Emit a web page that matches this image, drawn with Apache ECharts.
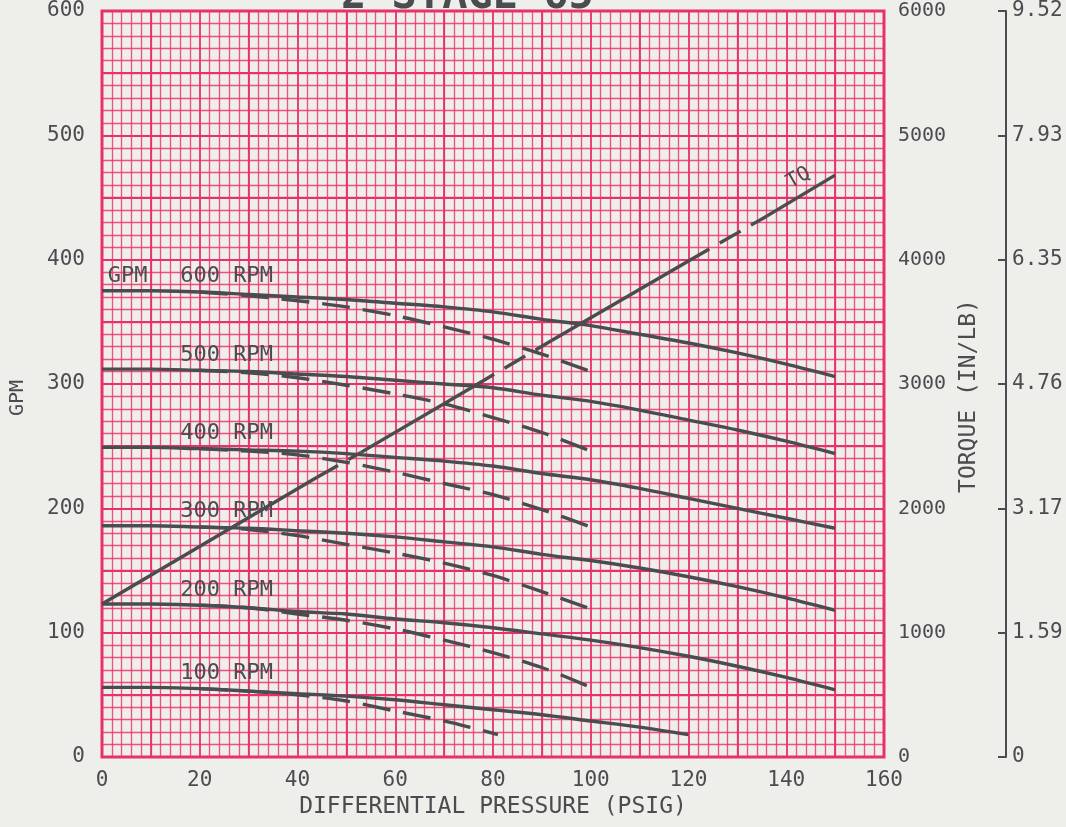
<!DOCTYPE html>
<html>
<head>
<meta charset="utf-8">
<script src="https://cdn.jsdelivr.net/npm/echarts@6/dist/echarts.min.js"></script>
<style>
html,body{margin:0;padding:0;background:#eeeeeb;}
#chart{width:1066px;height:827px;}
</style>
</head>
<body>
<div id="chart"></div>
<script>
// ---- data ----
var psiTicks = [0, 20, 40, 60, 80, 100, 120, 140, 160];
var rightTickLabels = ['0', '1.59', '3.17', '4.76', '6.35', '7.93', '9.52'];

var psiSolid = [0, 10, 20, 30, 40, 50, 60, 70, 80, 90, 100, 110, 120, 130, 140, 150];
var gpm600 = [375, 375, 374, 372, 370, 368, 365, 362, 358, 352, 347, 340, 333, 325, 316, 306];
var gpm500 = [312, 312, 311, 310, 308, 306, 303, 300, 297, 291, 286, 279, 271, 263, 254, 244];
var gpm400 = [249, 249, 248, 247, 246, 244, 241, 238, 234, 228, 223, 216, 208, 200, 192, 184];
var gpm300 = [186, 186, 185, 184, 182, 180, 177, 173, 169, 163, 158, 152, 145, 137, 128, 118];
var gpm200 = [123, 123, 122, 120, 117, 115, 111, 108, 104, 99, 94, 88, 81, 73, 64, 54];
var gpm100 = [56, 56, 55, 53, 51, 49, 46, 42, 38, 34, 29, 24, 18];

var psiDashed = [20, 30, 40, 50, 60, 70, 80, 90, 100];
var dash600 = [374, 371, 367, 362, 355, 346, 336, 324, 310];
var dash500 = [311, 309, 305, 299, 292, 284, 273, 261, 246];
var dash400 = [248, 246, 243, 237, 229, 220, 211, 199, 185];
var dash300 = [185, 183, 178, 171, 164, 156, 146, 133, 119];
var dash200 = [122, 120, 115, 110, 103, 94, 84, 72, 56];
var psiDashed100 = [20, 30, 40, 50, 60, 70, 81];
var dash100 = [55, 53, 50, 45, 37, 29, 18];

var rpmNames = ['600 RPM', '500 RPM', '400 RPM', '300 RPM', '200 RPM', '100 RPM'];
var rpmLabelPsi = 16;
var rpmLabelGpm = [375, 312, 249, 186, 123, 56];

// torque line (right axis, IN/LB): break points and stroke style of each segment
var tqPsi = [0, 44, 53, 76, 92, 120, 136, 150];
var tqVal = [1230, 2250, 2450, 2980, 3350, 3990, 4350, 4680];
var tqStyle = ['solid', 'dashed', 'solid', 'dashed', 'solid', 'dashed', 'solid'];

// ---- styling ----
var INK = '#4a4c50';
var FONT = 'DejaVu Sans Mono';
var MINOR = 'rgba(238,52,104,0.85)';
var MAJOR = '#e8306a';
var DASH = [28, 13];

function pairs(xs, ys) { return xs.map(function (x, i) { return [x, ys[i]]; }); }

var solidSets = [gpm600, gpm500, gpm400, gpm300, gpm200];
var dashSets = [dash600, dash500, dash400, dash300, dash200];

var series = [];
function labelPoint(i) {
  return {
    symbolSize: 0, silent: true,
    data: [{ coord: [rpmLabelPsi, rpmLabelGpm[i]], name: rpmNames[i] }],
    label: { show: true, formatter: '{b}', position: [0, -25], color: INK, fontFamily: FONT, fontSize: 22 }
  };
}
solidSets.forEach(function (ys, i) {
  series.push({
    type: 'line', xAxisIndex: 0, yAxisIndex: 0, smooth: 0.3, showSymbol: false, silent: true,
    data: pairs(psiSolid, ys), lineStyle: { color: INK, width: 3.4 },
    markPoint: labelPoint(i)
  });
});
series.push({
  type: 'line', xAxisIndex: 0, yAxisIndex: 0, smooth: 0.3, showSymbol: false, silent: true,
  data: pairs(psiSolid.slice(0, gpm100.length), gpm100), lineStyle: { color: INK, width: 3.4 },
  markPoint: labelPoint(5)
});
// "GPM" word next to 600 RPM
series[0].markPoint.data.push({ coord: [1.2, rpmLabelGpm[0]], name: 'GPM' });

dashSets.forEach(function (ys) {
  series.push({
    type: 'line', xAxisIndex: 0, yAxisIndex: 0, smooth: 0.3, showSymbol: false, silent: true,
    data: pairs(psiDashed, ys), lineStyle: { color: INK, width: 3.4, type: DASH }
  });
});
series.push({
  type: 'line', xAxisIndex: 0, yAxisIndex: 0, smooth: 0.3, showSymbol: false, silent: true,
  data: pairs(psiDashed100, dash100), lineStyle: { color: INK, width: 3.4, type: DASH }
});

for (var k = 0; k < tqStyle.length; k++) {
  var s = {
    type: 'line', xAxisIndex: 0, yAxisIndex: 1, showSymbol: false, silent: true,
    data: [[tqPsi[k], tqVal[k]], [tqPsi[k + 1], tqVal[k + 1]]],
    lineStyle: { color: INK, width: 3.4, type: tqStyle[k] === 'dashed' ? [24, 12] : 'solid' }
  };
  if (k === tqStyle.length - 1) {
    s.markPoint = {
      symbolSize: 0, silent: true,
      data: [{ coord: [141, 4470], name: 'TQ' }],
      label: { show: true, formatter: '{b}', position: [-8, -26], rotate: 30, color: INK, fontFamily: FONT, fontSize: 20 }
    };
  }
  series.push(s);
}

var chart = echarts.init(document.getElementById('chart'));
chart.setOption({
  backgroundColor: '#eeeeeb',
  animation: false,
  title: {
    text: '2 STAGE 65', left: 336, top: -29,
    textStyle: { fontFamily: FONT, fontSize: 42, fontWeight: 'bold', color: INK }
  },
  grid: { left: 100, right: 182, top: 11, bottom: 70, show: true, borderColor: MAJOR, borderWidth: 3, backgroundColor: 'transparent' },
  xAxis: [
    {
      type: 'value', min: psiTicks[0], max: psiTicks[psiTicks.length - 1], interval: 20,
      name: 'DIFFERENTIAL PRESSURE (PSIG)', nameLocation: 'middle', nameGap: 37,
      nameTextStyle: { fontFamily: FONT, fontSize: 23, color: INK },
      axisLine: { show: false }, axisTick: { show: false },
      axisLabel: { fontFamily: FONT, fontSize: 21, color: INK, margin: 13 },
      splitLine: { show: false },
      minorTick: { show: false, splitNumber: 10 },
      minorSplitLine: { show: true, lineStyle: { color: MINOR, width: 1.3 } }
    },
    {
      type: 'value', min: 0, max: 160, interval: 10, position: 'top',
      axisLine: { show: false }, axisTick: { show: false }, axisLabel: { show: false },
      splitLine: { show: true, lineStyle: { color: MAJOR, width: 1.8 } }
    }
  ],
  yAxis: [
    {
      type: 'value', min: 0, max: 600, interval: 100, position: 'left',
      name: 'GPM', nameLocation: 'middle', nameGap: 74, nameRotate: 90,
      nameTextStyle: { fontFamily: FONT, fontSize: 20, color: INK, padding: [0, 28, 0, 0] },
      axisLine: { show: false }, axisTick: { show: false },
      axisLabel: { fontFamily: FONT, fontSize: 21, color: INK, margin: 17 },
      splitLine: { show: false },
      minorTick: { show: false, splitNumber: 10 },
      minorSplitLine: { show: true, lineStyle: { color: MINOR, width: 1.3 } }
    },
    {
      type: 'value', min: 0, max: 6000, interval: 1000, position: 'right',
      name: 'TORQUE (IN/LB)', nameLocation: 'middle', nameGap: 64, nameRotate: 90,
      nameTextStyle: { fontFamily: FONT, fontSize: 23, color: INK, padding: [0, 24, 0, 0] },
      axisLine: { show: false }, axisTick: { show: false },
      axisLabel: { fontFamily: FONT, fontSize: 20, color: INK, margin: 14, formatter: function (v) { return String(v); } },
      splitLine: { show: false }
    },
    {
      type: 'value', min: 0, max: 6000, interval: 1000, position: 'right', offset: 122,
      axisLine: { show: true, lineStyle: { color: INK, width: 2 } },
      axisTick: { show: true, inside: true, length: 8, lineStyle: { color: INK, width: 2 } },
      axisLabel: {
        fontFamily: FONT, fontSize: 21, color: INK, margin: 6,
        formatter: function (v) { return rightTickLabels[Math.round(v / 1000)]; }
      },
      splitLine: { show: false }
    },
    {
      type: 'value', min: 0, max: 600, interval: 50, position: 'left',
      axisLine: { show: false }, axisTick: { show: false }, axisLabel: { show: false },
      splitLine: { show: true, lineStyle: { color: MAJOR, width: 1.8 } }
    }
  ],
  series: series
});
</script>
</body>
</html>
